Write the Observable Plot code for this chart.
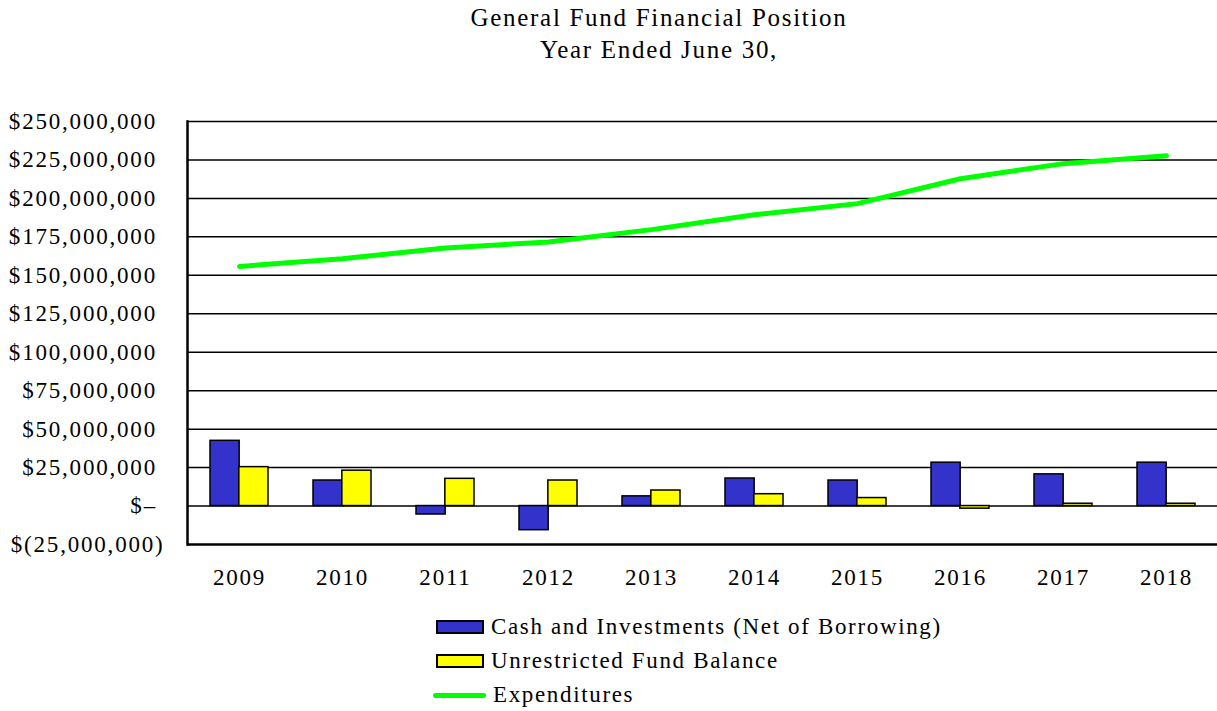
<!DOCTYPE html>
<html><head><meta charset="utf-8">
<script src="https://cdn.jsdelivr.net/npm/d3@7"></script>
<script src="https://cdn.jsdelivr.net/npm/@observablehq/plot@0.6"></script>
<style>
body{margin:0;background:#fff;font-family:"Liberation Serif","Times New Roman",serif;color:#000;width:1217px;overflow:hidden;}
#title{height:80px;box-sizing:border-box;padding-top:2px;padding-left:101px;text-align:center;font-size:25px;line-height:32px;letter-spacing:1.7px;}
#chart svg{display:block;overflow:visible;}
#legend{padding-top:10px;padding-left:433px;font-size:23px;letter-spacing:1.65px;}
.row{display:flex;align-items:center;height:34px;}
.sw{width:48px;height:14px;box-sizing:border-box;border:2px solid #000;margin-right:7px;margin-left:3px;}
.ln{width:53px;height:5px;border-radius:3px;background:#00FF00;margin-right:7px;}
</style></head>
<body>
<div id="title">General Fund Financial Position<br>Year Ended June 30,</div>
<div id="chart"></div>
<div id="legend">
  <div class="row"><div class="sw" style="background:#3333CC"></div><span>Cash and Investments (Net of Borrowing)</span></div>
  <div class="row"><div class="sw" style="background:#FFFF00"></div><span>Unrestricted Fund Balance</span></div>
  <div class="row"><div class="ln"></div><span>Expenditures</span></div>
</div>
<script>
const years = ["2009","2010","2011","2012","2013","2014","2015","2016","2017","2018"];
const cash = [42.4e6, 16.6e6, -5.5e6, -15.7e6, 6.3e6, 17.9e6, 16.6e6, 28.2e6, 20.6e6, 28.2e6];
const unrestricted = [25.3e6, 23.0e6, 17.7e6, 16.6e6, 10.1e6, 7.7e6, 5.2e6, -1.7e6, 1.5e6, 1.5e6];
const expenditures = [155.8e6, 160.8e6, 167.8e6, 171.7e6, 179.7e6, 189.4e6, 196.6e6, 212.8e6, 222.6e6, 227.8e6];
const yTicks = [-25e6, 0, 25e6, 50e6, 75e6, 100e6, 125e6, 150e6, 175e6, 200e6, 225e6, 250e6];

const table = years.map((y, i) => ({year: y, cash: cash[i], unrestricted: unrestricted[i], exp: expenditures[i]}));

const W = 1217, ML = 187, MR = 0, PI = 0.44;
const step = (W - ML - MR) / years.length;
const half = step * (1 - PI) / 2;

const fmt = v => {
  if (v === 0) return "$\u2013\u2008";
  const s = d3.format(",")(Math.abs(v));
  return v < 0 ? "$(" + s + ")" : "$" + s + "\u2008";
};

const chart = Plot.plot({
  width: W, height: 520,
  marginLeft: ML, marginRight: MR, marginTop: 41, marginBottom: 56,
  style: {fontFamily: "'Liberation Serif','Times New Roman',serif", fontSize: "23px", letterSpacing: "1.8px", color: "#000", background: "#fff"},
  x: {domain: years, paddingInner: PI, paddingOuter: PI / 2, label: null},
  y: {domain: [-25e6, 250e6], label: null},
  marks: [
    Plot.ruleY(yTicks.slice(1), {stroke: "#000", strokeWidth: 1.5}),
    Plot.ruleY([yTicks[0]], {stroke: "#000", strokeWidth: 2.5}),
    Plot.frame({anchor: "left", stroke: "#000", strokeWidth: 2.5}),
    Plot.barY(table, {x: "year", y: "cash", fill: "#3333CC", stroke: "#000", strokeWidth: 1.5, insetRight: half}),
    Plot.barY(table, {x: "year", y: "unrestricted", fill: "#FFFF00", stroke: "#000", strokeWidth: 1.5, insetLeft: half}),
    Plot.line(table, {x: "year", y: "exp", stroke: "#00FF00", strokeWidth: 5, strokeLinecap: "round", strokeLinejoin: "round"}),
    Plot.axisY({ticks: yTicks, tickFormat: fmt, tickSize: 0, tickPadding: 23, label: null}),
    Plot.axisX({tickSize: 0, tickPadding: 24, label: null})
  ]
});
document.getElementById("chart").append(chart);
</script>
</body></html>
